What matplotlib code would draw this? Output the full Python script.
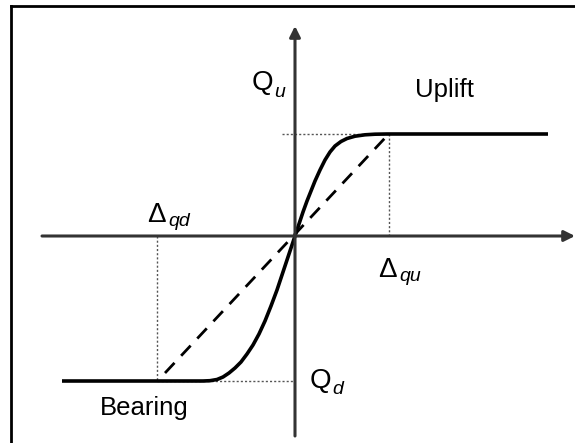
import matplotlib
matplotlib.use("Agg")
import matplotlib.pyplot as plt
from matplotlib.lines import Line2D

plt.rcParams["font.family"] = ["Liberation Sans", "DejaVu Sans"]

# load-displacement response (arbitrary units), bearing side negative
disp = [-2.33, -0.92, -0.85, -0.78, -0.72, -0.66, -0.60, -0.54, -0.48, -0.42,
        -0.36, -0.30, -0.24, -0.18, -0.12, -0.06, 0.0,
        0.04, 0.08, 0.12, 0.16, 0.20, 0.25, 0.30, 0.35, 0.40, 0.46, 0.52,
        0.60, 0.70, 0.80, 0.92, 2.53]
load = [-1.45, -1.45, -1.447, -1.435, -1.41, -1.37, -1.32, -1.26, -1.18, -1.09,
        -0.98, -0.85, -0.70, -0.54, -0.36, -0.18, 0.0,
        0.12, 0.24, 0.35, 0.45, 0.55, 0.66, 0.76, 0.84, 0.90, 0.945, 0.975,
        0.998, 1.012, 1.018, 1.02, 1.02]

# characteristic values
q_up = 1.02         # Qu
q_down = -1.45      # Qd
d_up = 0.94         # delta_qu
d_down = -1.38      # delta_qd

# secant (dashed) line end points
secant_x = [-1.30, 0.90]
secant_y = [-1.37, 0.98]

fig = plt.figure(figsize=(5.75, 4.43), dpi=100)
ax = fig.add_axes([0, 0, 1, 1])
ax.set_xlim(-2.95, 2.80)
ax.set_ylim(-2.07, 2.36)
ax.axis("off")

axis_col = "#333333"
arrow = dict(arrowstyle="-|>", lw=2.2, color=axis_col, mutation_scale=16,
             shrinkA=0, shrinkB=0)
ax.annotate("", xy=(2.80, 0), xytext=(-2.53, 0), arrowprops=arrow)
ax.annotate("", xy=(0, 2.10), xytext=(0, -2.00), arrowprops=arrow)

# dotted guides to the limit values
dot = dict(color="#555555", lw=1.0, ls=(0, (1.5, 1.5)))
ax.plot([-0.13, d_up + 0.01], [q_up, q_up], **dot)
ax.plot([d_up, d_up], [0, q_up], **dot)
ax.plot([d_down, 0], [q_down, q_down], **dot)
ax.plot([d_down, d_down], [0, q_down], **dot)

ax.plot(secant_x, secant_y, color="black", lw=2.0, ls=(0, (5, 3.5)))
ax.plot(disp, load, color="black", lw=2.6, solid_capstyle="butt",
        solid_joinstyle="round")

big = 20
sub = 14
ax.text(-0.43, 1.46, "Q", fontsize=big, ha="left", va="baseline")
ax.text(-0.21, 1.39, "u", fontsize=sub, style="italic", ha="left", va="baseline")

ax.text(-1.48, 0.14, "\u0394", fontsize=big, ha="left", va="baseline")
ax.text(-1.27, 0.10, "qd", fontsize=sub, style="italic", ha="left", va="baseline")

ax.text(0.83, -0.41, "\u0394", fontsize=big, ha="left", va="baseline")
ax.text(1.04, -0.45, "qu", fontsize=sub, style="italic", ha="left", va="baseline")

ax.text(0.15, -1.52, "Q", fontsize=big, ha="left", va="baseline")
ax.text(0.37, -1.58, "d", fontsize=sub, style="italic", ha="left", va="baseline")

ax.text(1.20, 1.39, "Uplift", fontsize=18.5, ha="left", va="baseline")
ax.text(-1.95, -1.79, "Bearing", fontsize=18.5, ha="left", va="baseline")

# outer frame (top and left edges)
fig.add_artist(Line2D([11 / 575, 11 / 575], [0, 1 - 6 / 443],
                      transform=fig.transFigure, color="black", lw=2))
fig.add_artist(Line2D([11 / 575, 1], [1 - 6 / 443, 1 - 6 / 443],
                      transform=fig.transFigure, color="black", lw=2))

fig.savefig("out.png", dpi=100)
